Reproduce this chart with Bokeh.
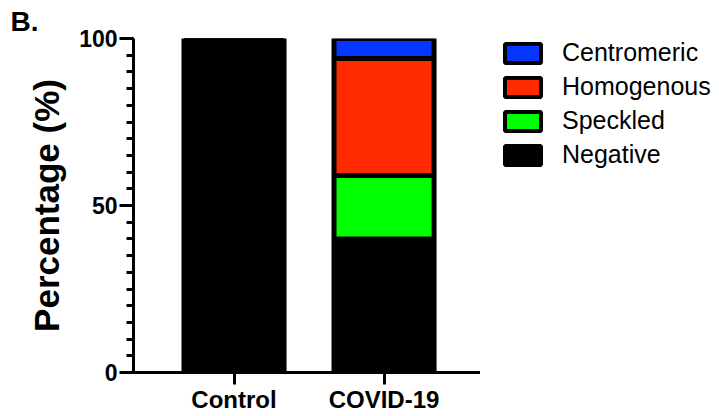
from bokeh.plotting import figure
from bokeh.layouts import row
from bokeh.models import (ColumnDataSource, FixedTicker, Legend, LegendItem, Range1d)
from bokeh.embed import file_html
from bokeh.resources import INLINE

categories = ["Control", "COVID-19"]
negative = [100, 40]
speckled = [0, 19]
homogenous = [0, 35]
centromeric = [0, 6]

series_names = ["Negative", "Speckled", "Homogenous", "Centromeric"]
colors = ["#000000", "#00ff00", "#ff2a00", "#0536ff"]

xpos = [i + 1 for i in range(len(categories))]
source = ColumnDataSource(dict(x=xpos, Negative=negative, Speckled=speckled,
                               Homogenous=homogenous, Centromeric=centromeric))

FONT = "Liberation Sans"

p = figure(width=480, height=416, output_backend="svg", toolbar_location=None,
           x_range=Range1d(0.33, 2.643), y_range=Range1d(0, 100),
           min_border_left=133, min_border_top=38, min_border_right=0,
           min_border_bottom=44)
p.grid.visible = False
p.outline_line_color = None
p.background_fill_color = "white"

renderers = p.vbar_stack(series_names, x="x", width=0.667, source=source,
                         color=colors, line_color="black", line_width=5)

# Y axis
ya = p.yaxis[0]
ya.ticker = FixedTicker(ticks=[0, 50, 100], minor_ticks=list(range(0, 101, 5)))
ya.axis_line_width = 3
ya.major_tick_line_width = 3
ya.minor_tick_line_width = 3
ya.major_tick_out = 14
ya.major_tick_in = 0
ya.minor_tick_out = 7
ya.minor_tick_in = 0
ya.major_label_standoff = 2
ya.major_label_text_font = FONT
ya.major_label_text_font_style = "bold"
ya.major_label_text_font_size = "23px"
ya.major_label_text_color = "black"
ya.axis_label = "Percentage (%)"
ya.axis_label_text_font = FONT
ya.axis_label_text_font_style = "bold"
ya.axis_label_text_font_size = "35px"
ya.axis_label_text_color = "black"
ya.axis_label_standoff = 10

# X axis
xa = p.xaxis[0]
xa.ticker = FixedTicker(ticks=xpos)
xa.major_label_overrides = {x: c for x, c in zip(xpos, categories)}
xa.axis_line_width = 3
xa.major_tick_line_width = 3
xa.major_tick_out = 12
xa.major_tick_in = 0
xa.minor_tick_line_color = None
xa.major_label_standoff = 1
xa.major_label_text_font = FONT
xa.major_label_text_font_style = "bold"
xa.major_label_text_font_size = "24px"
xa.major_label_text_color = "black"

# Panel letter
p.title.text = "B."
p.title.text_font = FONT
p.title.text_font_style = "bold"
p.title.text_font_size = "28px"
p.title.text_color = "black"
p.title.align = "left"
p.title.offset = -123
p.title.standoff = 4

# Legend figure: key glyphs share the series styling; the bars here are muted to invisibility
lg = figure(width=239, height=416, output_backend="svg", toolbar_location=None,
            x_axis_location=None, y_axis_location=None,
            x_range=Range1d(0.33, 2.643), y_range=Range1d(0, 100),
            min_border=0)
lg.grid.visible = False
lg.outline_line_color = None
key_renderers = lg.vbar_stack(series_names, x="x", width=0.667, source=source,
                              color=colors, line_color="black", line_width=4,
                              muted_alpha=0)
for r in key_renderers:
    r.muted = True
items = [LegendItem(label=n, renderers=[r]) for n, r in zip(series_names, key_renderers)][::-1]
legend = Legend(items=items, location=(20, 203), glyph_width=45, glyph_height=24,
                label_standoff=17, spacing=5, padding=0, margin=0,
                label_text_font=FONT, label_text_font_size="25px",
                label_text_color="black", click_policy="none",
                border_line_color=None, background_fill_alpha=0)
lg.add_layout(legend)

layout = row(p, lg)
open("out.html", "w").write(file_html(layout, INLINE))
